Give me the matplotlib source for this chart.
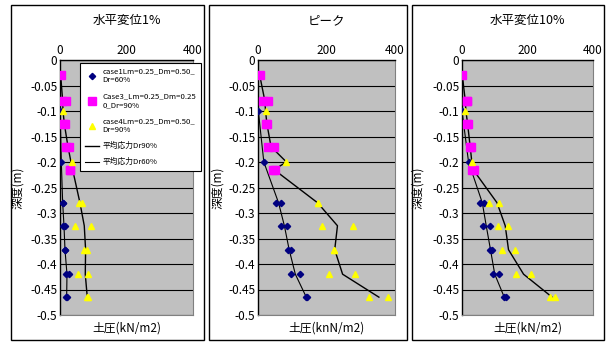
import matplotlib
matplotlib.use('Agg')
import matplotlib.pyplot as plt
from matplotlib.patches import Rectangle

plt.rcParams['font.family'] = ['Noto Sans CJK JP', 'DejaVu Sans']
plt.rcParams['axes.unicode_minus'] = False

titles = ['水平変位1%', 'ピーク', '水平変位10%']
xlabels = ['土圧(kN/m2)', '土圧(knN/m2)', '土圧(kN/m2)']

# depths (m)
d_case1 = [-0.1, -0.2, -0.28, -0.28, -0.325, -0.325, -0.372, -0.372, -0.42, -0.42, -0.465, -0.465]
d_case3 = [-0.03, -0.08, -0.08, -0.125, -0.125, -0.17, -0.17, -0.215, -0.215]
d_case4 = d_case1
d_dr90 = [-0.03, -0.08, -0.1, -0.125, -0.17, -0.2, -0.215, -0.28, -0.325, -0.372, -0.42, -0.465]
d_dr60 = [-0.1, -0.2, -0.28, -0.325, -0.372, -0.42, -0.465]

# 水平変位1%
p1_case1 = [0, 4, 8, 8, 8, 16, 15, 15, 17, 26, 19, 21]
p1_case3 = [2, 5, 17, 10, 16, 17, 28, 31, 31]
p1_case4 = [10, 37, 57, 66, 44, 92, 71, 82, 53, 85, 81, 83]
p1_dr90 = [2, 8, 9, 13, 24, 33, 38, 60, 73, 77, 76, 82]
p1_dr60 = [0, 4, 8, 12, 15, 21, 20]

# ピーク
p2_case1 = [1, 17, 54, 66, 68, 86, 87, 96, 96, 122, 139, 143]
p2_case3 = [5, 15, 29, 23, 27, 29, 46, 45, 49]
p2_case4 = [22, 83, 174, 174, 186, 277, 221, 221, 207, 283, 324, 379]
p2_dr90 = [5, 20, 22, 26, 38, 83, 47, 174, 232, 224, 247, 353]
p2_dr60 = [1, 17, 60, 77, 91, 109, 141]

# 水平変位10%
p3_case1 = [0, 20, 54, 66, 65, 84, 87, 92, 94, 114, 129, 133]
p3_case3 = [1, 14, 16, 16, 18, 24, 26, 32, 36]
p3_case4 = [10, 31, 81, 114, 109, 139, 123, 161, 165, 212, 268, 283]
p3_dr90 = [1, 10, 12, 17, 25, 30, 34, 107, 132, 142, 188, 275]
p3_dr60 = [0, 20, 62, 74, 87, 100, 129]

panels = [
    (p1_case1, p1_case3, p1_case4, p1_dr90, p1_dr60),
    (p2_case1, p2_case3, p2_case4, p2_dr90, p2_dr60),
    (p3_case1, p3_case3, p3_case4, p3_dr90, p3_dr60),
]

W, H = 612, 345
fig = plt.figure(figsize=(6.12, 3.45), dpi=100)

# axes boxes in pixels: left, right ; top 60, bottom 315
ax_px = [(60, 193), (258, 395), (462, 593)]
frame_px = [(11, 204), (209, 407), (412, 604)]
ylab_px = [24, 224, 424]

for fx0, fx1 in frame_px:
    fig.patches.append(Rectangle((fx0 / W, 5 / H), (fx1 - fx0) / W, 335 / H,
                                 transform=fig.transFigure, fill=False,
                                 edgecolor='black', linewidth=1.0))

for i, (c1, c3, c4, l90, l60) in enumerate(panels):
    x0, x1 = ax_px[i]
    ax = fig.add_axes([x0 / W, 30 / H, (x1 - x0) / W, 255 / H])
    ax.set_facecolor('#c0c0c0')
    ax.set_xlim(0, 400)
    ax.set_ylim(-0.5, 0)
    ax.set_xticks([0, 200, 400])
    ax.set_yticks([round(-0.05 * k, 2) for k in range(11)])
    ax.set_yticklabels(['0'] + ['%g' % round(-0.05 * k, 2) for k in range(1, 11)])
    ax.xaxis.tick_top()
    ax.tick_params(labelsize=8.5, length=0, pad=2)
    ax.grid(axis='y', color='black', linewidth=0.8)
    ax.set_axisbelow(True)
    for s in ['left', 'top']:
        ax.spines[s].set_color('black')
        ax.spines[s].set_linewidth(1.0)
    for s in ['right', 'bottom']:
        ax.spines[s].set_color('#808080')
        ax.spines[s].set_linewidth(0.8)

    ax.plot(l90, d_dr90, color='black', linewidth=1.0, label='平均応力Dr90%', zorder=3)
    ax.plot(l60, d_dr60, color='black', linewidth=0.8, label='平均応力Dr60%', zorder=3)
    ax.plot(c1, d_case1, linestyle='none', marker='D', markersize=3.2,
            color='#000080', label='case1Lm=0.25_Dm=0.50_\nDr=60%', zorder=4)
    ax.plot(c3, d_case3, linestyle='none', marker='s', markersize=5.5,
            color='#ff00ff', label='Case3_Lm=0.25_Dm=0.25\n0_Dr=90%', zorder=4)
    ax.plot(c4, d_case4, linestyle='none', marker='^', markersize=4.2,
            color='#ffff00', label='case4Lm=0.25_Dm=0.50_\nDr=90%', zorder=4)

    ax.set_title(titles[i], fontsize=9, pad=26)
    ax.set_xlabel(xlabels[i], fontsize=8.5, labelpad=5)
    ax.set_ylabel('深度(m)', fontsize=8.5)
    ax.yaxis.set_label_coords((ylab_px[i] - x0) / (x1 - x0), 0.5)

    if i == 0:
        h, l = ax.get_legend_handles_labels()
        order = [2, 3, 4, 0, 1]
        leg = ax.legend([h[k] for k in order], [l[k] for k in order],
                        loc='upper left', bbox_to_anchor=(0.15, 0.99),
                        borderaxespad=0, fontsize=5.6, frameon=True,
                        fancybox=False, edgecolor='black', framealpha=1,
                        borderpad=0.6, labelspacing=1.0, handlelength=1.8,
                        handletextpad=0.5)
        leg.get_frame().set_linewidth(0.8)

fig.savefig('out.png', dpi=100)
